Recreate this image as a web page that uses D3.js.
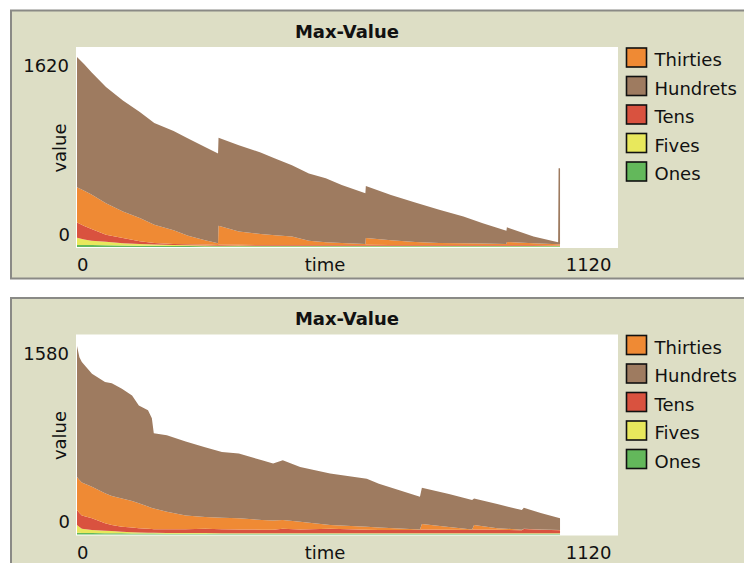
<!DOCTYPE html>
<html>
<head>
<meta charset="utf-8">
<script src="https://cdn.jsdelivr.net/npm/d3@7/dist/d3.min.js"></script>
<style>
  html, body { margin: 0; padding: 0; background: #ffffff; }
  svg { display: block; }
  text { font-family: "DejaVu Sans", Verdana, sans-serif; fill: #111; }
</style>
</head>
<body>
<svg id="chart" width="744" height="563"></svg>
<script>
// ---- Run 1 ----
const timesA    = [0, 15, 30, 60, 95, 130, 160, 200, 230, 265, 292, 293, 335, 380, 410, 445, 480, 515, 548, 597, 598, 650, 700, 750, 800, 840, 889, 890, 945, 996, 997, 1000];
const onesA     = [16, 16, 16, 14, 12, 10, 10, 8, 8, 6, 6, 6, 6, 6, 6, 6, 6, 6, 6, 6, 6, 6, 6, 6, 6, 6, 6, 6, 6, 6, 6, 6];
const fivesA    = [59, 44, 34, 28, 18, 14, 10, 8, 6, 6, 4, 4, 6, 4, 4, 4, 4, 4, 4, 4, 4, 4, 4, 4, 4, 4, 4, 4, 4, 4, 4, 4];
const tensA     = [124, 110, 95, 58, 43, 22, 12, 8, 8, 8, 6, 8, 6, 6, 6, 6, 6, 6, 6, 6, 8, 6, 6, 6, 6, 6, 6, 6, 6, 4, 4, 4];
const thirtiesA = [285, 285, 280, 255, 215, 188, 148, 111, 69, 34, 14, 154, 108, 89, 79, 70, 34, 22, 16, 9, 55, 38, 24, 16, 14, 12, 9, 24, 14, 8, 8, 8];
const hundretsA = [1056, 1025, 991, 940, 899, 860, 825, 805, 788, 757, 728, 712, 699, 660, 622, 577, 546, 518, 470, 410, 421, 368, 320, 269, 217, 165, 107, 119, 56, 16, 615, 615];

// ---- Run 2 ----
const timesB    = [0, 5, 10, 31, 58, 72, 93, 114, 128, 147, 155, 159, 186, 225, 265, 300, 335, 383, 406, 426, 462, 524, 600, 625, 710, 714, 770, 818, 822, 870, 921, 925, 960, 1000];
const onesB     = [14, 14, 12, 12, 10, 10, 10, 8, 8, 8, 8, 8, 6, 6, 6, 6, 6, 6, 6, 6, 6, 6, 6, 6, 6, 6, 6, 6, 6, 6, 6, 6, 6, 6];
const fivesB    = [61, 46, 33, 23, 20, 18, 12, 10, 8, 6, 6, 6, 6, 6, 6, 4, 4, 4, 4, 4, 4, 4, 4, 4, 4, 4, 4, 4, 4, 4, 4, 4, 4, 4];
const tensB     = [118, 110, 105, 93, 58, 47, 40, 37, 33, 31, 29, 28, 29, 30, 33, 32, 30, 28, 28, 35, 30, 35, 28, 26, 25, 30, 28, 25, 30, 28, 24, 33, 28, 23];
const thirtiesB = [262, 260, 260, 249, 237, 230, 223, 210, 197, 177, 167, 164, 139, 108, 93, 90, 88, 76, 72, 69, 60, 30, 24, 19, 5, 43, 22, 5, 35, 12, 4, 2, 2, 2];
const hundretsB = [1035, 970, 952, 893, 879, 889, 867, 834, 774, 759, 708, 594, 604, 585, 552, 520, 512, 473, 451, 473, 434, 407, 378, 345, 258, 286, 260, 232, 210, 190, 155, 166, 130, 93];

// Axis ranges shown on each plot
const xRange = [0, 1120];
const yMaxA = 1620;
const yMaxB = 1580;

// Pens: stacking order bottom -> top, and legend order
const stackKeys   = ["Ones", "Fives", "Tens", "Thirties", "Hundrets"];
const legendNames = ["Thirties", "Hundrets", "Tens", "Fives", "Ones"];
const penColors = {
  Ones: "#63b85b",
  Fives: "#e8e85c",
  Tens: "#d9523f",
  Thirties: "#ef8a34",
  Hundrets: "#9e7b60"
};

const svg = d3.select("#chart");

function drawPlot(offsetY, yMax, times, ones, fives, tens, thirties, hundrets, idx) {
  const g = svg.append("g").attr("transform", `translate(0,${offsetY})`);

  // widget frame
  g.append("rect")
    .attr("x", 11).attr("y", 10.5)
    .attr("width", 745).attr("height", 268)
    .attr("fill", "#dddec5")
    .attr("stroke", "#8a8a86")
    .attr("stroke-width", 2);

  // plotting canvas
  const left = 76, right = 618, top = 47, bottom = 248;
  g.append("rect")
    .attr("x", left).attr("y", top)
    .attr("width", right - left).attr("height", bottom - top)
    .attr("fill", "#ffffff");

  const x = d3.scaleLinear().domain(xRange).range([77, right]);
  const y = d3.scaleLinear().domain([0, yMax]).range([247, top]);

  const rows = times.map((t, i) => ({
    t,
    Ones: ones[i],
    Fives: fives[i],
    Tens: tens[i],
    Thirties: thirties[i],
    Hundrets: hundrets[i]
  }));

  const series = d3.stack().keys(stackKeys)(rows);

  const clipId = "plotclip" + idx;
  g.append("clipPath").attr("id", clipId)
    .append("rect")
    .attr("x", left).attr("y", top)
    .attr("width", right - left).attr("height", bottom - top);

  const area = d3.area()
    .x(d => x(d.data.t))
    .y0(d => y(d[0]))
    .y1(d => y(d[1]))
    .curve(d3.curveLinear);

  g.append("g").attr("clip-path", `url(#${clipId})`)
    .selectAll("path")
    .data(series)
    .join("path")
    .attr("d", area)
    .attr("fill", s => penColors[s.key]);

  // title
  g.append("text")
    .attr("x", (left + right) / 2).attr("y", 37.5)
    .attr("text-anchor", "middle")
    .style("font-size", "18px")
    .style("font-weight", "bold")
    .text("Max-Value");

  // y range labels
  g.append("text")
    .attr("x", 69).attr("y", y(yMax) + 25)
    .attr("text-anchor", "end")
    .style("font-size", "18px")
    .text(yMax);
  g.append("text")
    .attr("x", 70).attr("y", y(0) - 6.5)
    .attr("text-anchor", "end")
    .style("font-size", "18px")
    .text(0);

  // x range labels
  g.append("text")
    .attr("x", x(xRange[0])).attr("y", 271)
    .attr("text-anchor", "start")
    .style("font-size", "18px")
    .text(xRange[0]);
  g.append("text")
    .attr("x", x(xRange[1]) - 6.5).attr("y", 271)
    .attr("text-anchor", "end")
    .style("font-size", "18px")
    .text(xRange[1]);

  // axis names
  g.append("text")
    .attr("x", 325).attr("y", 271)
    .attr("text-anchor", "middle")
    .style("font-size", "18px")
    .text("time");
  g.append("text")
    .attr("transform", "translate(66,148) rotate(-90)")
    .attr("text-anchor", "middle")
    .style("font-size", "18px")
    .text("value");

  // legend
  const legend = g.append("g")
    .selectAll("g")
    .data(legendNames)
    .join("g")
    .attr("transform", (d, i) => `translate(626.5,${48 + i * 28.5})`);
  legend.append("rect")
    .attr("width", 20).attr("height", 19)
    .attr("fill", d => penColors[d])
    .attr("stroke", "#111")
    .attr("stroke-width", 1.6);
  legend.append("text")
    .attr("x", 28).attr("y", 18)
    .style("font-size", "18px")
    .text(d => d);
}

drawPlot(0, yMaxA, timesA, onesA, fivesA, tensA, thirtiesA, hundretsA, 1);
drawPlot(287.5, yMaxB, timesB, onesB, fivesB, tensB, thirtiesB, hundretsB, 2);
</script>
</body>
</html>
